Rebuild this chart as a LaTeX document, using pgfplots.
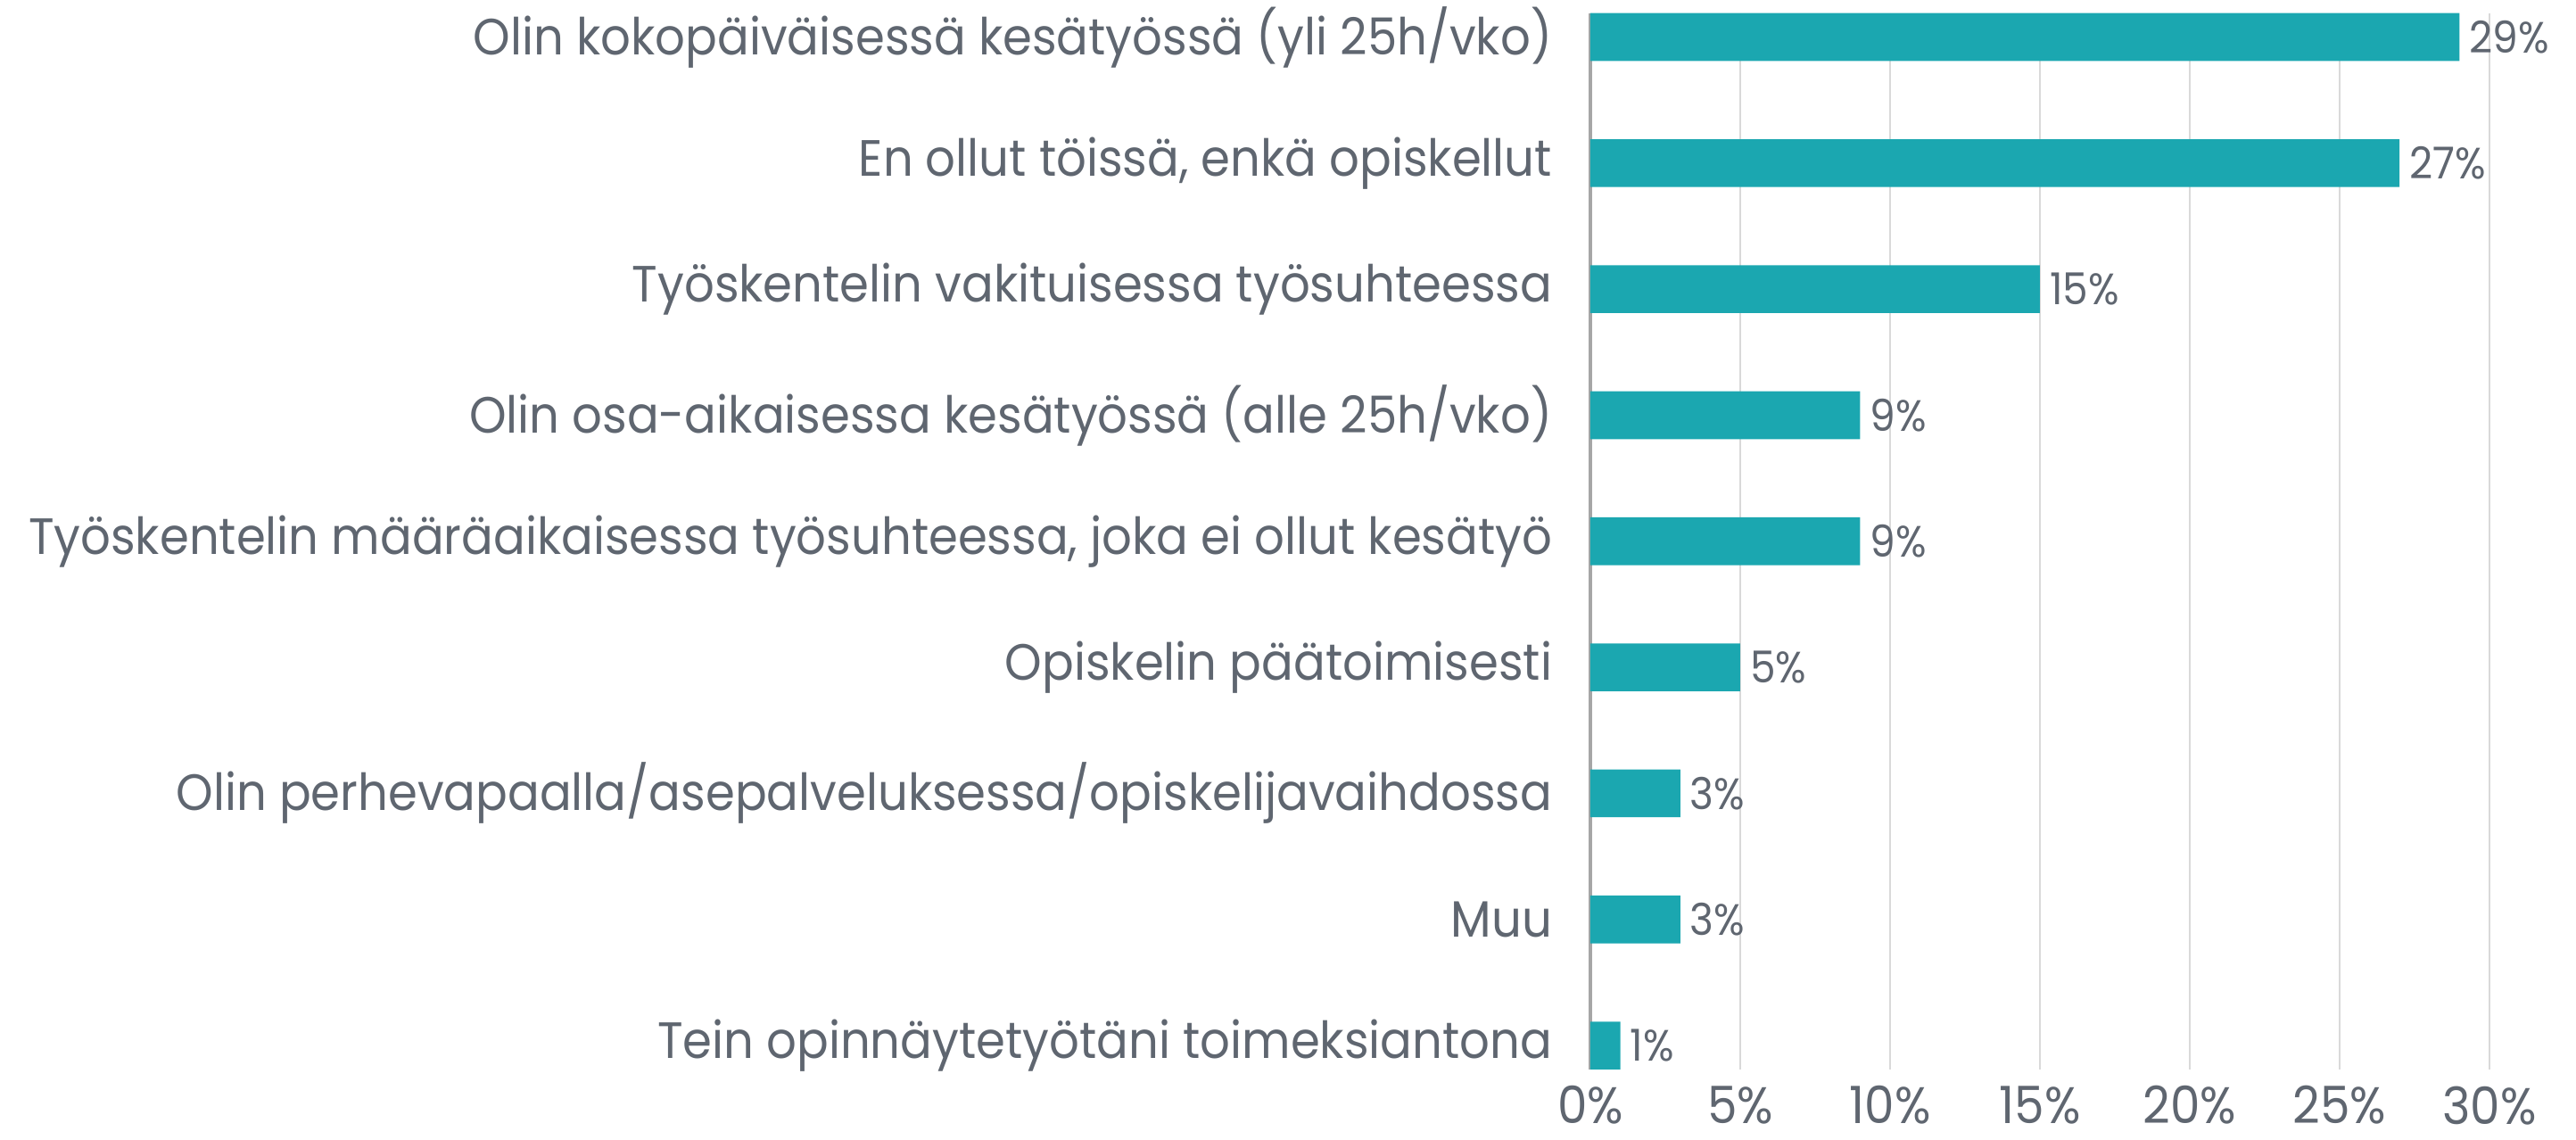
\documentclass[border=0pt]{standalone}
\usepackage{pgfplots}
\pgfplotsset{compat=1.18}
\usepackage{fontspec}
\setmainfont{Poppins}[FakeStretch=0.925]
\definecolor{barc}{HTML}{1BA7B0}
\definecolor{txt}{HTML}{5F6670}
\definecolor{grd}{HTML}{D9D9D9}
\definecolor{axc}{HTML}{A6A6A6}
\begin{document}
\begin{tikzpicture}
\begin{axis}[
 scale only axis, width=252pt, height=296pt,
 xbar, bar width=13.4pt,
 xmin=0, xmax=30, ymin=-0.189, ymax=8.189, y dir=reverse,
 axis line style={draw=none},
 tick style={draw=none},
 major tick length=0pt,
 /pgf/number format/assume math mode=true,
 xtick={0,5,...,30},
 xticklabel={\pgfmathprintnumber{\tick}\%},
 xmajorgrids, grid style={grd, line width=0.6pt},
 ytick={0,...,8},
 yticklabels={Olin kokopäiväisessä kesätyössä (yli 25h/vko),
   {En ollut töissä, enkä opiskellut},
   Työskentelin vakituisessa työsuhteessa,
   Olin osa-aikaisessa kesätyössä (alle 25h/vko),
   {Työskentelin määräaikaisessa työsuhteessa, joka ei ollut kesätyö},
   Opiskelin päätoimisesti,
   Olin perhevapaalla/asepalveluksessa/opiskelijavaihdossa,
   Muu,
   Tein opinnäytetyötäni toimeksiantona},
 yticklabel style={font=\fontsize{14.3}{16}\selectfont, text=txt, anchor=east, inner sep=0pt, xshift=-10.5pt},
 xticklabel style={font=\fontsize{14.4}{16}\selectfont, text=txt, anchor=north, inner sep=0pt, yshift=-4.5pt},
 nodes near coords={\pgfmathprintnumber{\pgfplotspointmeta}\%},
 nodes near coords style={font=\fontsize{12.3}{14}\selectfont, text=txt, anchor=west, inner sep=0pt, xshift=2.6pt},
 extra x ticks={0}, extra x tick labels={}, extra x tick style={grid style={axc, line width=0.8pt}},
]
\addplot[fill=barc, draw=none] coordinates {(29,0) (27,1) (15,2) (9,3) (9,4) (5,5) (3,6) (3,7) (1,8)};
\end{axis}
\pgfresetboundingbox
\path[use as bounding box] ([xshift=-445.75pt,yshift=-19.75pt]current axis.south west) rectangle ([xshift=24.25pt,yshift=3.7pt]current axis.north east);
\end{tikzpicture}
\end{document}
